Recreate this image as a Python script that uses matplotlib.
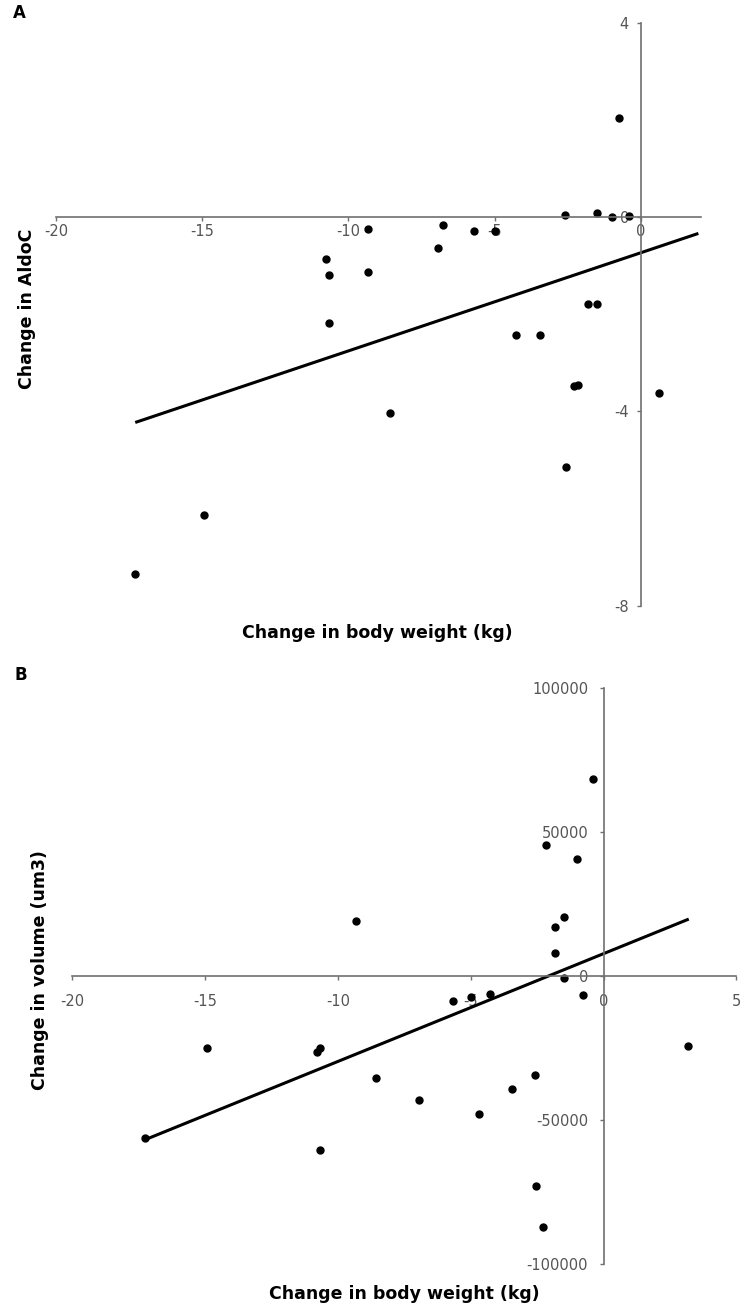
import matplotlib
matplotlib.use("Agg")
import matplotlib.pyplot as plt

plt.rcParams["axes.unicode_minus"] = False

W, H = 746, 1310

# panel A: change in body weight (kg) vs change in AldoC
a_weight = [-9.34, -10.75, -10.65, -9.34, -10.65, -0.76, -6.78, -5.69, -4.97, -6.94,
            -2.60, -1.50, -0.99, -0.40, -1.82, -1.48, -14.94, -17.29, -8.58, -4.27,
            -3.45, -2.30, -2.14, 0.64, -2.54]
a_aldoc = [-0.25, -0.86, -1.19, -1.14, -2.19, 2.04, -0.16, -0.30, -0.30, -0.63,
           0.04, 0.07, 0.0, 0.02, -1.79, -1.79, -6.14, -7.34, -4.03, -2.44,
           -2.44, -3.47, -3.45, -3.63, -5.15]
a_trend_x = [-17.29, 1.97]
a_trend_y = [-4.23, -0.34]
a_xticks = [-20, -15, -10, -5, 0]
a_yticks = [-8, -4, 0, 4]

# panel B: change in body weight (kg) vs change in volume (um3)
b_weight = [-9.33, -0.39, -2.15, -0.98, -1.50, -1.81, -1.81, -1.48, -0.77, -5.68,
            -4.97, -4.28, 3.20, -8.58, -6.94, -4.69, -3.44, -2.59, -2.54, -2.29,
            -14.93, -10.68, -10.77, -17.27, -10.66]
b_volume = [19200, 68300, 45500, 40600, 20250, 17100, 7900, -800, -6800, -8600,
            -7200, -6400, -24200, -35300, -43100, -47900, -39100, -34300, -72900, -87300,
            -25100, -24900, -26600, -56400, -60600]
b_trend_x = [-17.27, 3.21]
b_trend_y = [-56900, 19700]
b_xticks = [-20, -15, -10, -5, 0, 5]
b_yticks = [-100000, -50000, 0, 50000, 100000]

axis_col = "#707070"
tick_col = "#555555"


def box(x0, x1, ytop, ybot):
    # pixel box -> figure fraction
    return [x0 / W, 1 - ybot / H, (x1 - x0) / W, (ybot - ytop) / H]


def style(ax, xpad, ypad):
    for s in ["top", "right"]:
        ax.spines[s].set_visible(False)
    for s in ["left", "bottom"]:
        ax.spines[s].set_position(("data", 0))
        ax.spines[s].set_color(axis_col)
        ax.spines[s].set_linewidth(1.2)
    ax.tick_params(direction="out", length=3, width=1, color=axis_col,
                   labelcolor=tick_col, labelsize=10.5)
    ax.tick_params(axis="x", pad=xpad)
    ax.tick_params(axis="y", pad=ypad)
    ax.patch.set_alpha(0)


def ftext(px, py, s, **kw):
    fig.text(px / W, 1 - py / H, s, ha="center", va="center", **kw)


fig = plt.figure(figsize=(W / 100, H / 100), dpi=100)

# A
axA = fig.add_axes(box(56, 700.7, 22.5, 605.7))
axA.plot(a_trend_x, a_trend_y, color="black", lw=2.2, solid_capstyle="butt")
axA.plot(a_weight, a_aldoc, "o", color="black", ms=5, clip_on=False)
axA.set_xlim(-20, 2.05)
axA.set_ylim(-8, 4)
axA.set_xticks(a_xticks)
axA.set_yticks(a_yticks)
style(axA, 2, 5.5)

# B
axB = fig.add_axes(box(72.3, 736.3, 687.7, 1264))
axB.plot(b_trend_x, b_trend_y, color="black", lw=2.2, solid_capstyle="butt")
axB.plot(b_weight, b_volume, "o", color="black", ms=5, clip_on=False)
axB.set_xlim(-20, 5)
axB.set_ylim(-100000, 100000)
axB.set_xticks(b_xticks)
axB.set_yticks(b_yticks)
style(axB, 10, 8)

ftext(19, 13, "A", fontsize=12, fontweight="bold")
ftext(21, 675, "B", fontsize=12, fontweight="bold")
ftext(27, 309, "Change in AldoC", fontsize=12.5, fontweight="bold", rotation=90)
ftext(377, 633, "Change in body weight (kg)", fontsize=12.5, fontweight="bold")
ftext(40, 970, "Change in volume (um3)", fontsize=12.5, fontweight="bold", rotation=90)
ftext(404, 1294, "Change in body weight (kg)", fontsize=12.5, fontweight="bold")

fig.savefig("out.png", dpi=100, facecolor="white")
